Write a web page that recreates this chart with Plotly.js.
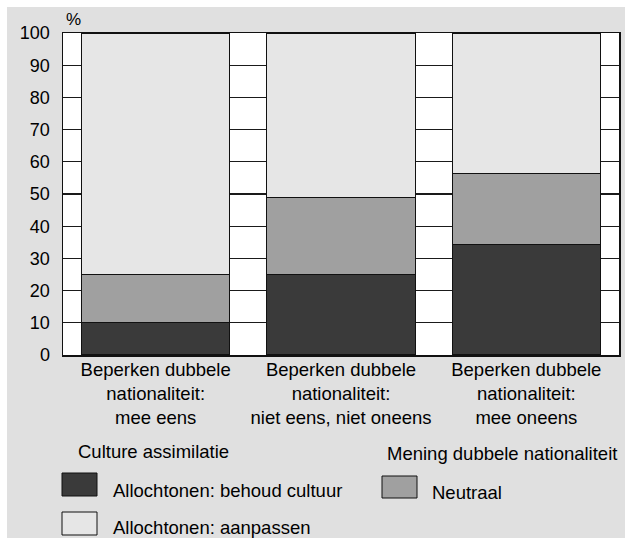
<!DOCTYPE html>
<html>
<head>
<meta charset="utf-8">
<script src="https://cdn.plot.ly/plotly-3.0.1.min.js"></script>
<style>
  html, body { margin: 0; padding: 0; background: #ffffff; }
  #chart { position: absolute; left: 7px; top: 7px; width: 618px; height: 531px; }
</style>
</head>
<body>
<div id="chart"></div>
<script>
// ---- data ----
const categories = [
  "Beperken dubbele<br>nationaliteit:<br>mee eens",
  "Beperken dubbele<br>nationaliteit:<br>niet eens, niet oneens",
  "Beperken dubbele<br>nationaliteit:<br>mee oneens"
];
const behoudCultuur = [10, 25, 34.4];   // Allochtonen: behoud cultuur
const neutraal = [15, 24, 22];          // Neutraal
const aanpassen = [75, 51, 43.6];       // Allochtonen: aanpassen
const yTicks = [0, 10, 20, 30, 40, 50, 60, 70, 80, 90, 100];

const seriesNames = ["Allochtonen: behoud cultuur", "Neutraal", "Allochtonen: aanpassen"];
const colors = ["#3a3a3a", "#a0a0a0", "#e6e6e6"];
const FONT = "Liberation Sans, Arial, Helvetica, sans-serif";

const lineStyle = { color: "#111111", width: 1.2 };
const traces = [behoudCultuur, neutraal, aanpassen].map((vals, i) => ({
  type: "bar",
  x: categories,
  y: vals,
  name: seriesNames[i],
  marker: { color: colors[i], line: lineStyle },
  hoverinfo: "skip"
}));

// page-pixel -> paper helpers (plot area: x 63..619, y 33..355 on page)
const PL = 63, PR = 619, PT = 33, PB = 355;
const px = x => (x - PL) / (PR - PL);
const py = y => (PB - y) / (PB - PT);

function swatch(x0, y0, x1, y1, color) {
  return {
    type: "rect", xref: "paper", yref: "paper",
    x0: px(x0), x1: px(x1), y0: py(y1), y1: py(y0),
    fillcolor: color, line: { color: "#111111", width: 1 }
  };
}
function label(text, x, y) {
  return {
    text: text, xref: "paper", yref: "paper",
    x: px(x), y: py(y), xanchor: "left", yanchor: "middle",
    showarrow: false, font: { family: FONT, size: 18.5, color: "#000" }
  };
}

const layout = {
  width: 618, height: 531,
  margin: { l: 56, r: 6, t: 26, b: 183 },
  paper_bgcolor: "#e0e0e0",
  plot_bgcolor: "#ffffff",
  barmode: "stack",
  bargap: 0.2,
  showlegend: false,
  font: { family: FONT, size: 18, color: "#000" },
  xaxis: {
    showline: true, mirror: true, linecolor: "#111", linewidth: 1.5,
    showgrid: false, ticks: "", ticklabelstandoff: -3,
    tickfont: { size: 18.5 }, fixedrange: true
  },
  yaxis: {
    range: [0, 100], tickvals: yTicks, ticktext: yTicks.map(String),
    showline: true, mirror: true, linecolor: "#111", linewidth: 1.5,
    showgrid: true, gridcolor: "#1a1a1a", gridwidth: 1.3,
    zeroline: false, ticks: "", ticklabelstandoff: 8,
    tickfont: { size: 18 }, fixedrange: true
  },
  shapes: [
    swatch(62, 473, 97, 496, colors[0]),
    swatch(62, 512, 97, 535, colors[2]),
    swatch(382, 476, 417, 498, colors[1])
  ],
  annotations: [
    { text: "%", xref: "paper", yref: "paper", x: px(64), y: py(20), xanchor: "left", yanchor: "middle",
      showarrow: false, font: { family: FONT, size: 17, color: "#000" } },
    label("Culture assimilatie", 76, 451),
    label(seriesNames[0], 111, 490),
    label(seriesNames[2], 111, 527),
    label("Mening dubbele nationaliteit", 385, 453),
    label(seriesNames[1], 430, 492)
  ]
};

Plotly.newPlot("chart", traces, layout, { displayModeBar: false, staticPlot: true });
</script>
</body>
</html>
